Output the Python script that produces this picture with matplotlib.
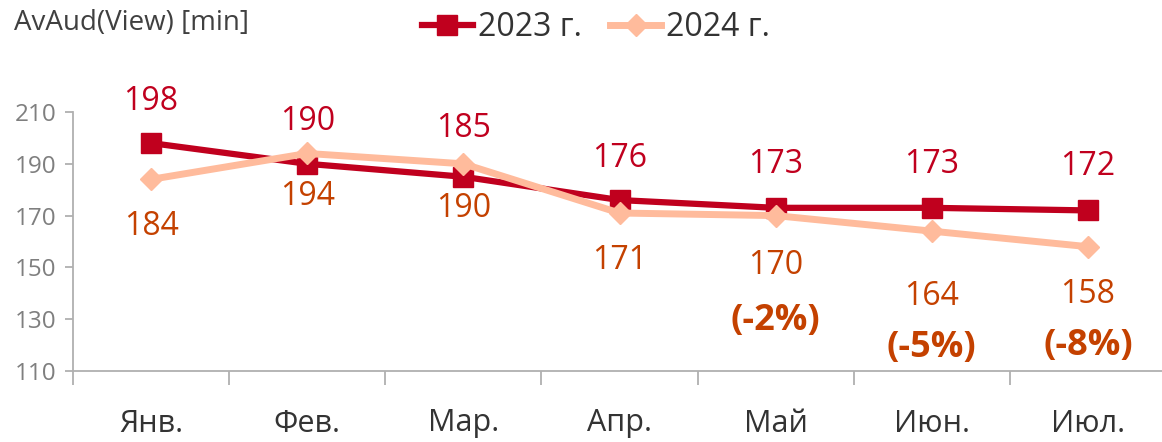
import matplotlib.pyplot as plt
import numpy as np

months = ['Янв.', 'Фев.', 'Мар.', 'Апр.', 'Май', 'Июн.', 'Июл.']
y2023 = [198, 190, 185, 176, 173, 173, 172]
y2024 = [184, 194, 190, 171, 170, 164, 158]
pct2024 = ['', '', '', '', '(-2%)', '(-5%)', '(-8%)']

# смещения подписей (в пикселях), подобраны по картинке
off2023 = [42, 42, 48, 42, 43, 43, 44]
off2024 = [-47, -43, -45, -47, -50, -65, -48]
off_pct = [0, 0, 0, 0, 55, 52, 51]

c23 = '#C0001E'
c24 = '#FFBB9C'
c24_txt = '#C44100'

plt.rcParams['font.family'] = ['Open Sans', 'DejaVu Sans']

fig = plt.figure(figsize=(11.62, 4.42), dpi=100)
ax = fig.add_axes([73 / 1162, 71 / 442, (1166 - 73) / 1162, 259 / 442])

x = np.arange(len(months))
ax.plot(x, y2023, color=c23, linewidth=4.5, marker='s', markersize=14,
        label='2023 г.', zorder=3)
ax.plot(x, y2024, color=c24, linewidth=5, marker='D', markersize=11,
        label='2024 г.', zorder=4)

k = 0.72  # пиксели -> пункты при dpi=100
for i in range(len(months)):
    ax.annotate(str(y2023[i]), (x[i], y2023[i]), xytext=(0, off2023[i] * k),
                textcoords='offset points', ha='center', va='center',
                fontsize=23, color=c23)
    ax.annotate(str(y2024[i]), (x[i], y2024[i]), xytext=(0, off2024[i] * k),
                textcoords='offset points', ha='center', va='center',
                fontsize=23, color=c24_txt)
    if pct2024[i]:
        ax.annotate(pct2024[i], (x[i], y2024[i]),
                    xytext=(0, (off2024[i] - off_pct[i]) * k),
                    textcoords='offset points', ha='center', va='center',
                    fontsize=26, fontweight='bold', color=c24_txt)

ax.set_xlim(-0.5, 6.5)
ax.set_ylim(110, 210)
ax.set_yticks(np.arange(110, 211, 20))
ax.set_xticks(x)
ax.set_xticklabels(months)
ax.set_xticks(np.arange(-0.5, 7, 1), minor=True)

for s in ['top', 'right']:
    ax.spines[s].set_visible(False)
for s in ['left', 'bottom']:
    ax.spines[s].set_color('#B0B0B0')
    ax.spines[s].set_linewidth(1.3)

ax.tick_params(axis='x', which='major', length=0, pad=27, labelsize=22,
               labelcolor='#333333')
ax.tick_params(axis='x', which='minor', length=10, width=1.3, color='#B0B0B0')
ax.tick_params(axis='y', length=6, width=1.3, color='#B0B0B0',
               labelsize=17.5, labelcolor='#7F7F7F', pad=6)

fig.text(14 / 1162, 1 - 23 / 442, 'AvAud(View) [min]', fontsize=20,
         color='#404040', va='center', ha='left')

fig.legend(loc='center', bbox_to_anchor=(596 / 1162, 1 - 28 / 442), ncol=2,
           frameon=False, fontsize=23, handlelength=1.6, handletextpad=0.15,
           columnspacing=0.9, labelcolor='#333333')

fig.savefig('out.png', dpi=100)
